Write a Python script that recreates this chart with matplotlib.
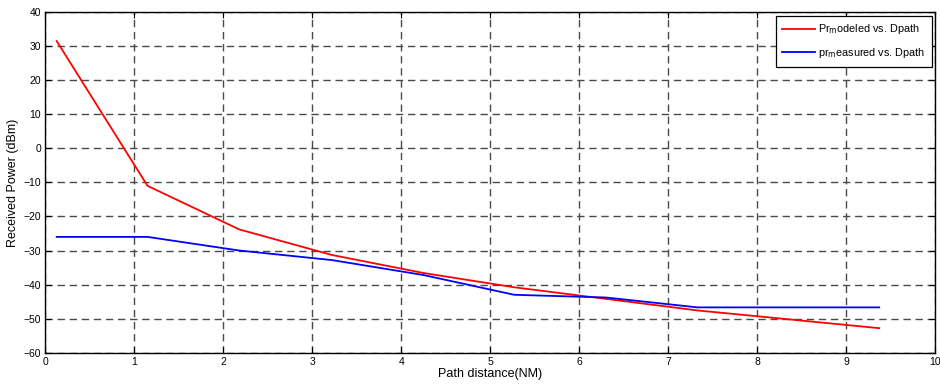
import matplotlib
matplotlib.use("Agg")
import matplotlib.pyplot as plt

# path distance samples (NM)
dpath = [0.13, 1.15, 2.18, 3.22, 4.25, 5.27, 6.3, 7.33, 8.35, 9.37]
pr_modeled = [31.5, -11.0, -23.8, -31.3, -36.6, -40.8, -44.2, -47.6, -50.2, -52.8]
pr_measured = [-26.0, -26.0, -30.0, -32.8, -37.2, -43.0, -43.8, -46.7, -46.7, -46.7]

plt.rcParams["font.family"] = ["Liberation Sans", "DejaVu Sans"]

fig = plt.figure(figsize=(9.4, 3.91), dpi=100)
ax = fig.add_axes([0.048, 0.098, 0.947, 0.871])

ax.plot(dpath, pr_modeled, color="red", lw=1.3, label=r"Pr$_{\mathrm{m}}$odeled vs. Dpath")
ax.plot(dpath, pr_measured, color="blue", lw=1.3, label=r"pr$_{\mathrm{m}}$easured vs. Dpath")

ax.set_xlim(0, 10)
ax.set_ylim(-60, 40)
ax.set_xticks(range(0, 11))
ax.set_yticks(range(-60, 41, 10))
ax.tick_params(direction="in", top=True, right=True, labelsize=7.5, length=4, pad=3)
ax.grid(True, color="#4a4a4a", linestyle=(0, (5.3, 3.4)), lw=1.0)
for s in ax.spines.values():
    s.set_linewidth(1.0)

ax.set_xlabel("Path distance(NM)", fontsize=9, labelpad=1)
ax.set_ylabel("Received Power (dBm)", fontsize=9, labelpad=3)

leg = ax.legend(loc="upper right", fontsize=7.8, fancybox=False, edgecolor="black",
                framealpha=1, handlelength=3.0, handletextpad=0.3, borderaxespad=0.35,
                labelspacing=0.9, borderpad=0.6)
leg.get_frame().set_linewidth(0.9)

fig.savefig("out.png", dpi=100)
